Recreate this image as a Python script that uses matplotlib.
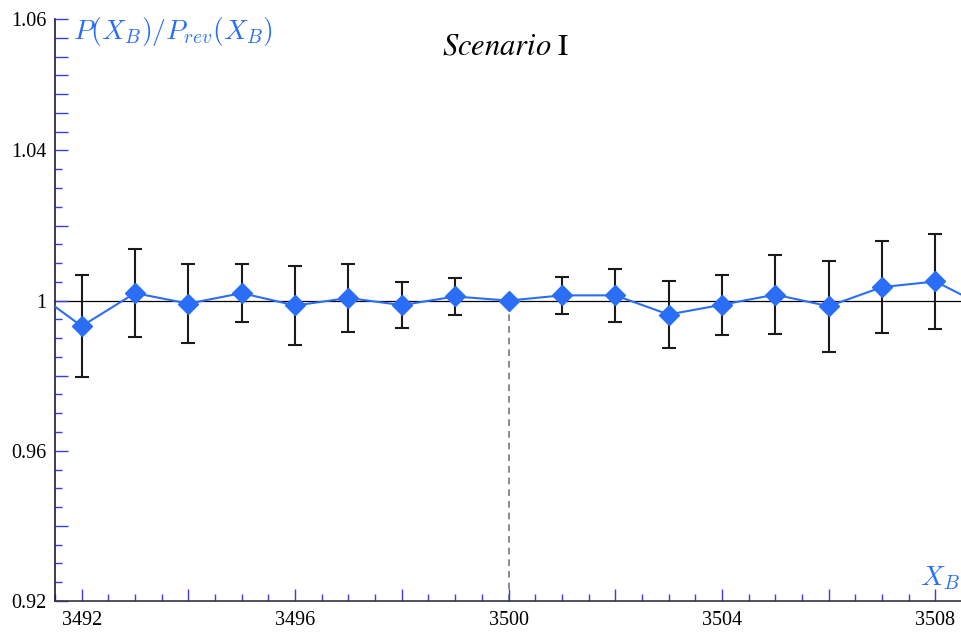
import numpy as np
import matplotlib
matplotlib.use('Agg')
import matplotlib.pyplot as plt

plt.rcParams['font.family'] = ['Liberation Serif', 'DejaVu Serif']

# data
xb = [3491, 3492, 3493, 3494, 3495, 3496, 3497, 3498, 3499, 3500,
      3501, 3502, 3503, 3504, 3505, 3506, 3507, 3508, 3509]
ratio = [1.0036, 0.9932, 1.0020, 0.9992, 1.0020, 0.9987, 1.0007, 0.9988, 1.0011, 1.0000,
         1.0014, 1.0014, 0.9963, 0.9989, 1.0016, 0.9985, 1.0036, 1.0051, 0.9979]
err_x = [3492, 3493, 3494, 3495, 3496, 3497, 3498, 3499,
         3501, 3502, 3503, 3504, 3505, 3506, 3507, 3508]
err_y = [0.9932, 1.0020, 0.9992, 1.0020, 0.9987, 1.0007, 0.9988, 1.0011,
         1.0014, 1.0014, 0.9963, 0.9989, 1.0016, 0.9985, 1.0036, 1.0051]
err = [0.0136, 0.0118, 0.0106, 0.0078, 0.0104, 0.0091, 0.0061, 0.0049,
       0.0050, 0.0070, 0.0089, 0.0080, 0.0106, 0.0121, 0.0123, 0.0127]

ytick_pos = [0.92, 0.96, 1.0, 1.04, 1.075]
ytick_lab = ['0.92', '0.96', '1', '1.04', '1.06']
xtick_pos = [3492, 3496, 3500, 3504, 3508]

blue = '#2a6ef8'
tickblue = '#3c3ce6'

fig = plt.figure(figsize=(9.61, 6.32), dpi=100)
ax = fig.add_axes([55 / 961, 31 / 632, 906 / 961, 582 / 632])

ax.axhline(1.0, color='black', lw=0.9, zorder=1)
ax.plot([3500, 3500], [0.92, 1.0], color='#777777', lw=1.2,
        linestyle=(0, (4, 3)), zorder=1)
ax.errorbar(err_x, err_y, yerr=err, fmt='none', ecolor='#1a1a1a',
            elinewidth=1.5, capsize=5, capthick=1.5, zorder=2)
ax.plot(xb, ratio, color=blue, lw=1.5, marker='D', markersize=10.5,
        markerfacecolor=blue, markeredgecolor=blue, zorder=3)

ax.set_xlim(3491.59, 3508.48)
ax.set_ylim(0.92, 1.075)

for s in ['top', 'right']:
    ax.spines[s].set_visible(False)
ax.spines['left'].set_color('#1a1a40')
ax.spines['bottom'].set_color('#333344')
ax.spines['left'].set_linewidth(1.2)
ax.spines['bottom'].set_linewidth(1.2)

# y ticks
ymaj = list(np.arange(0.92, 1.041, 0.02)) + list(np.arange(1.045, 1.0751, 0.005))
ylab = []
for v in ymaj:
    lab = ''
    for p, l in zip(ytick_pos, ytick_lab):
        if abs(v - p) < 1e-6:
            lab = l
    ylab.append(lab)
ax.set_yticks(ymaj)
ax.set_yticklabels(ylab)
ax.set_yticks(np.arange(0.92, 1.04, 0.005), minor=True)

# x ticks
xmaj = np.arange(3492, 3509, 2)
ax.set_xticks(xmaj)
ax.set_xticklabels([str(v) if v in xtick_pos else '' for v in xmaj])
ax.set_xticks(np.arange(3491.5, 3508.5, 0.5), minor=True)

ax.tick_params(which='both', direction='in', color=tickblue, width=1.0,
               labelsize=14.5, labelcolor='black')
ax.tick_params(which='major', length=9)
ax.tick_params(which='minor', length=5)
ax.tick_params(axis='x', pad=7)
ax.tick_params(axis='y', pad=6)

ax.text(0.02, 0.978, r'$P(X_B)/P_{rev}(X_B)$', transform=ax.transAxes,
        color=blue, fontsize=20, ha='left', va='center', math_fontfamily='cm')
ax.text(0.999, 0.04, r'$X_B$', transform=ax.transAxes,
        color=blue, fontsize=20, ha='right', va='center', math_fontfamily='cm')
ax.text(0.497, 0.952, r'$\mathit{Scenario}\ \mathrm{I}$', transform=ax.transAxes,
        color='black', fontsize=22, ha='center', va='center', math_fontfamily='stix')

fig.savefig('out.png', dpi=100)
